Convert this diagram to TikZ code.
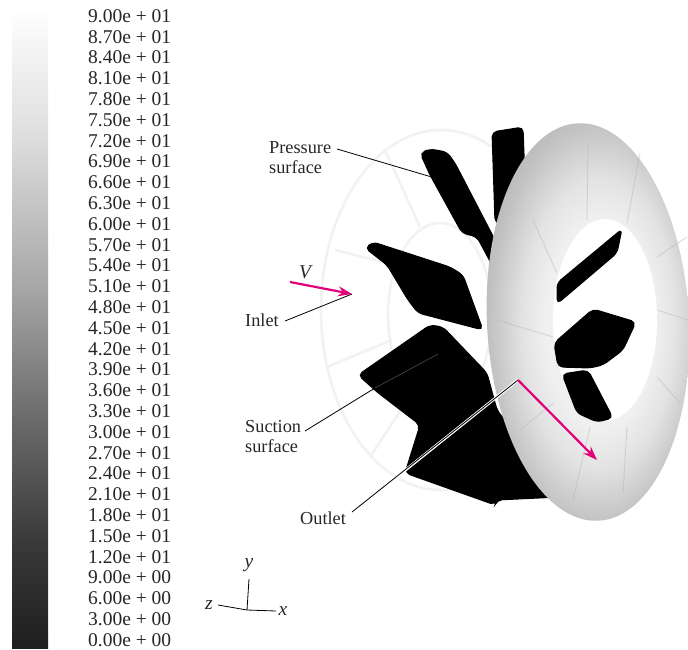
\documentclass[tikz,border=0pt]{standalone}
\usepackage{fontspec}
\setmainfont{Liberation Serif}
\usepackage{tikz}
\usetikzlibrary{positioning,arrows.meta,calc}
\definecolor{flowpink}{RGB}{226,0,122}
\pgfdeclareverticalshading{graybar}{100bp}{
    color(0bp)=(black!88); color(25bp)=(black!88); color(33bp)=(black!78); color(43bp)=(black!58);
    color(53bp)=(black!35); color(65bp)=(black!13); color(75bp)=(white); color(100bp)=(white)}
\pgfdeclareradialshading{ringshade}{\pgfpoint{4bp}{0bp}}{
    color(0bp)=(black!6); color(13bp)=(black!6); color(18bp)=(black!11);
    color(25bp)=(black!24); color(30bp)=(black!30); color(50bp)=(black!30)}

\begin{document}
\begin{tikzpicture}[
    x=1pt, y=-1pt,
    scalelabel/.style={font=\fontsize{19.5}{20}\selectfont, anchor=west, inner sep=0pt, text=black!85},
    label/.style={font=\fontsize{18.3}{20.5}\selectfont, anchor=west, inner sep=0pt, align=left, text=black!85},
    varlabel/.style={font=\fontsize{19.5}{20}\selectfont\itshape, inner sep=0pt, text=black!85},
    leader/.style={black, line width=0.8pt},
    flow/.style={flowpink, line width=2.2pt, -{Stealth[length=14pt,width=10pt]}},
    ghost/.style={black!5, line width=2.6pt},
    spoke/.style={black!30, line width=1pt, opacity=0.4},
    blade/.style={fill=black, draw=black, line width=1pt, rounded corners=5pt},
]
\useasboundingbox (0,0) rectangle (688,650);

% Scale bar
\shade[shading=graybar] (12,8) rectangle (48,648);
\foreach \i/\t in {0/9.00e + 01, 1/8.70e + 01, 2/8.40e + 01, 3/8.10e + 01, 4/7.80e + 01,
    5/7.50e + 01, 6/7.20e + 01, 7/6.90e + 01, 8/6.60e + 01, 9/6.30e + 01, 10/6.00e + 01,
    11/5.70e + 01, 12/5.40e + 01, 13/5.10e + 01, 14/4.80e + 01, 15/4.50e + 01, 16/4.20e + 01,
    17/3.90e + 01, 18/3.60e + 01, 19/3.30e + 01, 20/3.00e + 01, 21/2.70e + 01, 22/2.40e + 01,
    23/2.10e + 01, 24/1.80e + 01, 25/1.50e + 01, 26/1.20e + 01, 27/9.00e + 00, 28/6.00e + 00,
    29/3.00e + 00, 30/0.00e + 00} {
    \pgfmathsetmacro{\ylab}{16+\i*20.8}
    \node[scalelabel] (val\i) at (88, \ylab) {\t};
}

% Faint rotor outline
\draw[ghost] (441,310) ellipse [x radius=120, y radius=180];
\draw[ghost] (440,315) ellipse [x radius=52, y radius=92];
\foreach \xa/\ya/\xb/\yb in {385/150/420/227, 335/250/395/265, 327/367/392/340, 370/457/403/407} {
    \draw[ghost] (\xa,\ya) -- (\xb,\yb);
}

% Blades behind the ring
\fill[blade] (492,132) -- (523,127) -- (525,180) -- (507,225) -- (495,223) -- cycle;
\fill[blade] (420,153) -- (430,149) -- (447,152) -- (455,163) -- (495,240) -- (493,267)
    -- (477,237) -- (462,233) -- (430,175) -- cycle;
\fill[blade] (365,248) -- (373,242) -- (450,267) -- (463,275) -- (483,330) -- (418,313)
    -- (408,300) -- (387,265) -- cycle;
\fill[blade] (358,375) -- (430,325) -- (443,327) -- (487,373) -- (497,410) -- (520,440)
    -- (560,497) -- (497,500) -- (495,505) -- (405,473) -- (420,425) -- (377,392) -- cycle;

% Ring
\shade[shading=ringshade, rotate around={3:(588,322)}] (588,322) ellipse [x radius=101, y radius=199];
\foreach \xa/\ya/\xb/\yb in {497/320/553/337, 588/143/587/220, 533/220/557/273, 657/257/687/237,
    657/310/688/320, 657/377/680/403, 627/427/623/493, 590/427/573/500, 553/403/520/430, 640/153/627/223} {
    \draw[spoke] (\xa,\ya) -- (\xb,\yb);
}
\fill[white] (605,320) ellipse [x radius=52, y radius=101];

% Blades seen through the ring
\fill[blade] (557,283) -- (622,229) -- (617,253) -- (557,304) -- cycle;
\fill[blade] (554,343) -- (593,309) -- (636,322) -- (623,350) -- (603,365) -- (590,368) -- (558,367) -- cycle;
\fill[blade] (562,374) -- (588,370) -- (613,418) -- (597,422) -- (577,413) -- cycle;

% Labels
\node[label] (pressure) at (269,157.5) {Pressure\\surface};
\node[label] (inlet) at (245,320) {Inlet};
\node[label] (suction) at (245,436.5) {Suction\\surface};
\node[label] (outlet) at (300,518) {Outlet};
\node[varlabel] (vel) at (305,272) {V};

% Leaders
\coordinate (pressuretip) at (435,178);
\coordinate (inlettip) at (352,294);
\coordinate (suctiontip) at (438,354);
\coordinate (suctionedge) at (375,388);
\coordinate (outlettip) at (518,380);
\coordinate (outletedge) at (403,472);
\coordinate (veltail) at (290,282);
\coordinate (outflow) at (597,460);
\coordinate (outletfoot) at (352,512);
\coordinate (suctionfoot) at (305,431);
\coordinate (pressurefoot) at (337,149);
\coordinate (inletfoot) at (285,321);
\draw[leader] (pressurefoot) -- (pressuretip);
\draw[leader] (inletfoot) -- (inlettip);
\draw[leader] (suctionfoot) -- (suctionedge);
\draw[black!70, line width=0.6pt] (suctionedge) -- (suctiontip);
\draw[white, line width=2.8pt] (outletedge) -- (outlettip);
\draw[leader] (outletfoot) -- (outlettip);
\draw[flow] (veltail) -- (inlettip);
\draw[flow] (outlettip) -- (outflow);

% Axes
\coordinate (origin) at (247,610);
\coordinate (yend) at (249,579);
\coordinate (zend) at (218,605);
\coordinate (xend) at (276,611);
\node[varlabel] (yaxis) at (249,565) {y};
\node[varlabel] (zaxis) at (209,605) {z};
\node[varlabel] (xaxis) at (283,611) {x};
\draw[leader] (origin) -- (yend);
\draw[leader] (origin) -- (zend);
\draw[leader] (origin) -- (xend);
\end{tikzpicture}
\end{document}
